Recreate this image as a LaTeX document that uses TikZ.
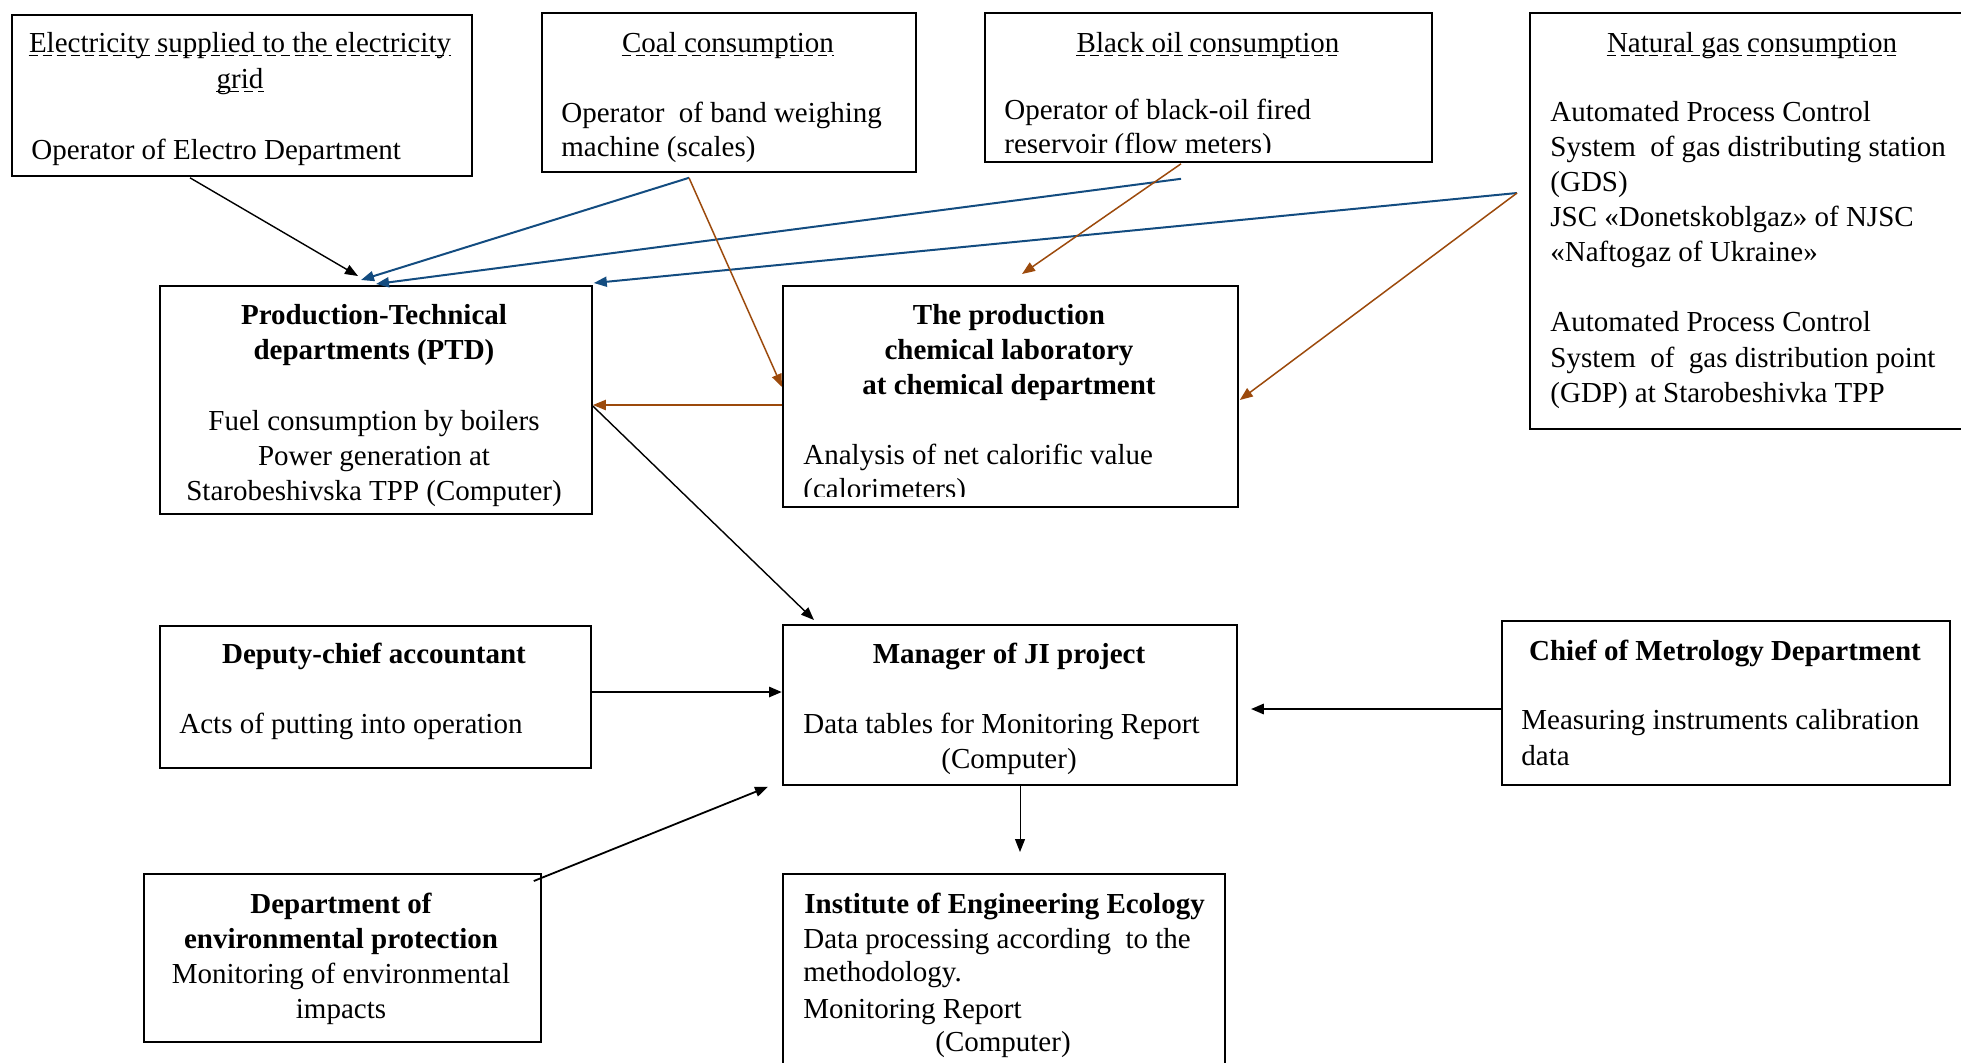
\documentclass[tikz,border=0pt]{standalone}
\usepackage{fontspec}
\setmainfont{Liberation Serif}
\usetikzlibrary{calc,arrows.meta}
\definecolor{lblue}{RGB}{19,76,128}
\definecolor{lbrown}{RGB}{156,74,12}
\newcommand\bx[5]{\node[box,minimum width=#4*0.5pt,minimum height=#5*0.5pt] (#1) at (#2,#3) {};}
\newcommand\tx[6][]{\node[txt,#1,anchor=#3] (#2) at (#4,#5) {#6};}
\newcommand\ul[1]{\draw[uline] ($(#1.base west)+(0,3.5)$) -- ($(#1.base east)+(0,3.5)$);}
\tikzset{
  box/.style={draw=black,line width=0.9pt,anchor=north west,inner sep=0pt,fill=none},
  txt/.style={inner sep=0pt,font=\fontsize{14.5}{17.5}\selectfont},
  bld/.style={font=\fontsize{14.5}{17.5}\selectfont\bfseries},
  uline/.style={line width=0.7pt,dash pattern=on 4.5pt off 2.5pt},
  tip/.style={-{Triangle[length=6.5pt,width=5pt]}},
  blk/.style={tip,draw=black,line width=0.7pt},
  blu/.style={-{Triangle[length=6.5pt,width=5pt]},draw=lblue,fill=lblue,line width=1pt},
  brn/.style={-{Triangle[length=6.5pt,width=5pt]},draw=lbrown,fill=lbrown,line width=0.75pt},
}
\begin{document}
\begin{tikzpicture}[x=0.5pt,y=-0.5pt]
\useasboundingbox (0,0) rectangle (1961,1062);
\clip (0,0) rectangle (1961,1062);
% boxes
\bx{elec}{11}{14}{460}{161}
\bx{coal}{541}{12}{374}{159}
\bx{oil}{984}{12}{447}{149}
\bx{gas}{1529}{12}{480}{416}
\bx{ptd}{159}{285}{432}{228}
\bx{chem}{782}{285}{455}{221}
\bx{dep}{159}{625}{431}{142}
\bx{mgr}{782}{624}{454}{160}
\bx{chief}{1501}{620}{448}{164}
\bx{env}{143}{873}{397}{168}
\bx{inst}{782}{873}{442}{240}
% texts: electricity
\tx{e1}{base}{240}{52}{Electricity supplied to the electricity}
\tx{e2}{base}{240}{88}{grid}
\tx{e3}{base west}{31}{159}{Operator of Electro Department}
\ul{e1}\ul{e2}
% coal
\tx{c1}{base}{728}{52}{Coal consumption}
\tx{c2}{base west}{561}{122}{Operator\ \ of band weighing}
\tx{c3}{base west}{561}{156}{machine (scales)}
\ul{c1}
% black oil
\tx{o1}{base}{1208}{52}{Black oil consumption}
\tx{o2}{base west}{1004}{119}{Operator of black-oil fired}
\ul{o1}
\begin{scope}
\clip (984,12) rectangle (1431,152);
\tx{o3}{base west}{1004}{153}{reservoir (flow meters)}
\end{scope}
% natural gas
\tx{g1}{base}{1752}{52}{Natural gas consumption}
\ul{g1}
\tx{g2}{base west}{1550}{121}{Automated Process Control}
\tx{g3}{base west}{1550}{156}{System\ \ of gas distributing station}
\tx{g4}{base west}{1550}{191}{(GDS)}
\tx{g5}{base west}{1550}{226}{JSC «Donetskoblgaz» of NJSC}
\tx{g6}{base west}{1550}{261}{«Naftogaz of Ukraine»}
\tx{g7}{base west}{1550}{331}{Automated Process Control}
\tx{g8}{base west}{1550}{367}{System\ \ of\ \ gas distribution point}
\tx{g9}{base west}{1550}{402}{(GDP) at Starobeshivka TPP}
% PTD
\tx[bld]{p1}{base}{374}{324}{Production-Technical}
\tx[bld]{p2}{base}{374}{359}{departments (PTD)}
\tx{p3}{base}{374}{430}{Fuel consumption by boilers}
\tx{p4}{base}{374}{465}{Power generation at}
\tx{p5}{base}{374}{500}{Starobeshivska TPP (Computer)}
% chem lab
\tx[bld]{l1}{base}{1009}{324}{The production}
\tx[bld]{l2}{base}{1009}{359}{chemical laboratory}
\tx[bld]{l3}{base}{1009}{394}{at chemical department}
\tx{l4}{base west}{803}{464}{Analysis of net calorific value}
\begin{scope}
\clip (782,285) rectangle (1237,496);
\tx{l5}{base west}{803}{498}{(calorimeters)}
\end{scope}
% deputy
\tx[bld]{d1}{base}{374}{663}{Deputy-chief accountant}
\tx{d2}{base west}{179}{733}{Acts of putting into operation}
% manager
\tx[bld]{m1}{base}{1009}{663}{Manager of JI project}
\tx{m2}{base west}{803}{733}{Data tables for Monitoring Report}
\tx{m3}{base}{1009}{768}{(Computer)}
% chief
\tx[bld]{h1}{base}{1725}{660}{Chief of Metrology Department}
\tx{h2}{base west}{1521}{729}{Measuring instruments calibration}
\tx{h3}{base west}{1521}{765}{data}
% env
\tx[bld]{n1}{base}{341}{913}{Department of}
\tx[bld]{n2}{base}{341}{948}{environmental protection}
\tx{n3}{base}{341}{983}{Monitoring of environmental}
\tx{n4}{base}{341}{1018}{impacts}
% institute
\tx[bld]{i1}{base west}{804}{913}{Institute of Engineering Ecology}
\tx{i2}{base west}{803}{948}{Data processing according\ \ to the}
\tx{i3}{base west}{803}{981}{methodology.}
\tx{i4}{base west}{803}{1018}{Monitoring Report}
\tx{i5}{base}{1003}{1051}{(Computer)}
% connectors
\coordinate (gp) at ($(gas.north west)+(-12,181)$);
\coordinate (cp) at ($(coal.south west)+(148,5)$);
\draw[blk] ($(elec.south west)+(179,1)$) -- ($(ptd.north west)+(199,-9)$);
\draw[blu] (cp) -- ($(ptd.north west)+(202,-5)$);
\draw[blu] ($(oil.south west)+(197,16)$) -- ($(ptd.north west)+(217,-1)$);
\draw[blu] (gp) -- ($(ptd.north east)+(1,-2)$);
\draw[brn] (gp) -- ($(chem.north east)+(1,115)$);
\draw[brn] ($(oil.south west)+(197,1)$) -- ($(chem.north west)+(240,-11)$);
\draw[brn] (cp) -- ($(chem.north west)+(0,102)$);
\draw[brn,line width=1pt] ($(chem.north west)+(0,120)$) -- ($(ptd.north east)+(0,120)$);
\draw[blk] ($(ptd.north east)+(0,121)$) -- ($(mgr.north west)+(32,-4)$);
\draw[blk,line width=1.4pt] ($(dep.north east)+(0,67)$) -- ($(mgr.north west)+(0,68)$);
\draw[blk,line width=1.4pt] ($(chief.north west)+(0,89)$) -- ($(mgr.north east)+(13,85)$);
\draw[blk,line width=0.5pt] ($(mgr.south west)+(238,0)$) -- ($(inst.north west)+(238,-21)$);
\draw[blk,line width=0.9pt] ($(env.north east)+(-8,8)$) -- ($(mgr.south west)+(-14,1)$);
\end{tikzpicture}
\end{document}
